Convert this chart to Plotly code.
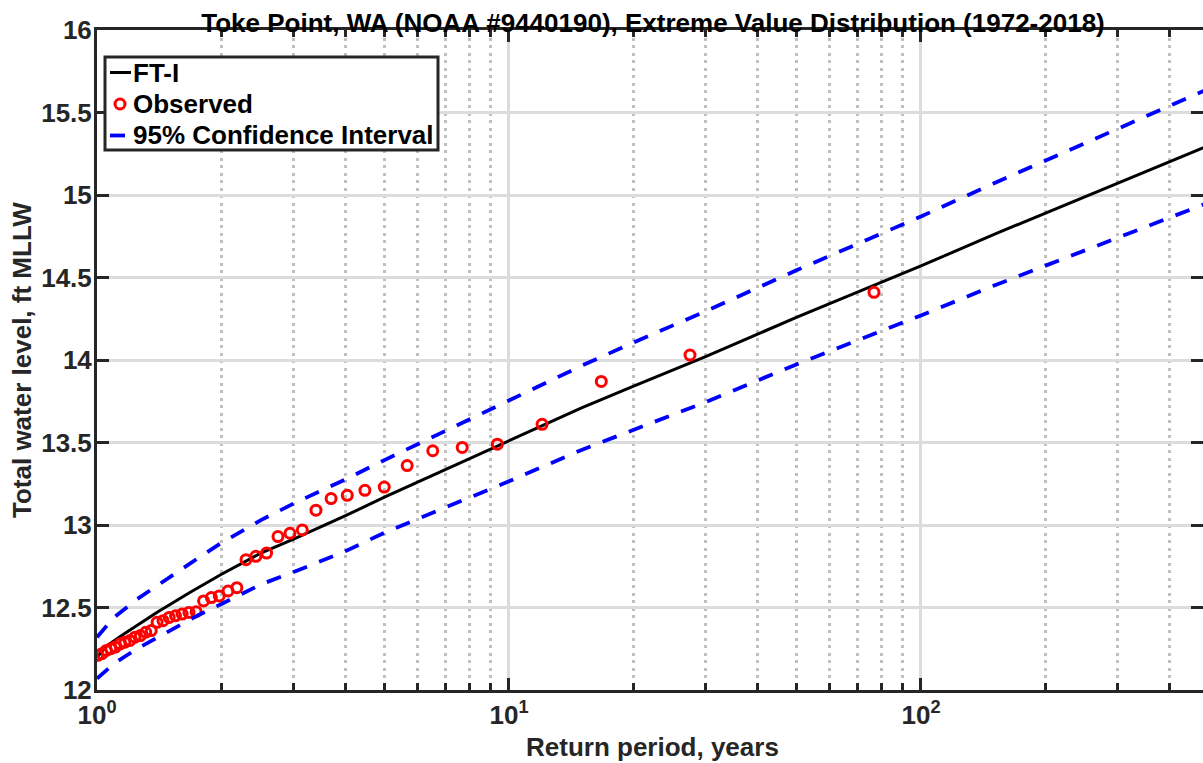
import plotly.graph_objects as go

# ---------------- data ----------------
fit_T = [1.0, 1.02, 1.056, 1.16, 1.4, 1.68, 2.0, 2.5, 3, 4, 5, 7, 10, 15, 20,
         30, 50, 70, 100, 150, 200, 300, 500]
fit_v = [12.195, 12.225, 12.267, 12.338, 12.471, 12.591, 12.70, 12.83, 12.915,
         13.055, 13.17, 13.335, 13.51, 13.71, 13.84, 14.02, 14.26, 14.41, 14.57,
         14.76, 14.89, 15.07, 15.30]

obs_T = [76.9, 27.5, 16.75, 12.03, 9.37, 7.70, 6.53, 5.66, 4.98, 4.47, 4.05, 3.70,
         3.40, 3.15, 2.94, 2.75, 2.58, 2.43, 2.30, 2.185, 2.08, 1.98, 1.895, 1.814,
         1.740, 1.672, 1.609, 1.551, 1.497, 1.446, 1.399, 1.354, 1.313, 1.274,
         1.237, 1.202, 1.169, 1.138, 1.108, 1.080, 1.054, 1.028, 1.004]
obs_v = [14.41, 14.03, 13.87, 13.61, 13.49, 13.47, 13.45, 13.36, 13.23, 13.21,
         13.18, 13.16, 13.09, 12.97, 12.95, 12.93, 12.83, 12.81, 12.79, 12.62,
         12.60, 12.57, 12.56, 12.54, 12.475, 12.47, 12.46, 12.45, 12.44, 12.42,
         12.41, 12.36, 12.35, 12.33, 12.32, 12.30, 12.29, 12.28, 12.26, 12.25,
         12.24, 12.22, 12.21]

ci_T = [1.0, 1.1, 1.25, 1.5, 1.75, 2, 2.5, 3, 4, 5, 7, 10, 15, 20, 30, 50, 70,
        100, 150, 200, 300, 500]
ci_upper = [12.32, 12.44, 12.55, 12.685, 12.795, 12.89, 13.03, 13.13, 13.275, 13.395,
            13.57, 13.755, 13.965, 14.105, 14.295, 14.545, 14.703, 14.87, 15.07,
            15.208, 15.40, 15.645]
ci_lower = [12.07, 12.16, 12.25, 12.36, 12.45, 12.52, 12.64, 12.715, 12.84, 12.955,
            13.105, 13.265, 13.455, 13.575, 13.745, 13.975, 14.117, 14.27, 14.45,
            14.572, 14.74, 14.955]

x_major_ticks = [1, 10, 100]
x_major_text = ["10<sup>0</sup>", "10<sup>1</sup>", "10<sup>2</sup>"]
x_minor_ticks = [2, 3, 4, 5, 6, 7, 8, 9, 20, 30, 40, 50, 60, 70, 80, 90, 200, 300, 400]
y_ticks = [12, 12.5, 13, 13.5, 14, 14.5, 15, 15.5, 16]
y_text = ["12", "12.5", "13", "13.5", "14", "14.5", "15", "15.5", "16"]

legend_names = ["FT-I", "Observed", "95% Confidence Interval"]
title_text = "Toke Point, WA (NOAA #9440190), Extreme Value Distribution (1972-2018)"
x_title = "Return period, years"
y_title = "Total water level, ft MLLW"

# ---------------- figure ----------------
FONT = "Liberation Sans, Arial, Helvetica, sans-serif"
AX = "#262626"
L, R, T, B = 97, 1203, 30, 690          # plot area in pixels


def px(xp):
    return (xp - L) / (R - L)


def py(yp):
    return (B - yp) / (B - T)


fit_line = dict(color="black", width=3)
obs_marker = dict(symbol="circle-open", size=10, color="red",
                  line=dict(color="red", width=3))
ci_line = dict(color="#0000ff", width=3.8, dash="15px,13px")

fig = go.Figure()
fig.add_trace(go.Scatter(x=fit_T, y=fit_v, mode="lines", name=legend_names[0],
                         line=fit_line))
fig.add_trace(go.Scatter(x=obs_T, y=obs_v, mode="markers", name=legend_names[1],
                         marker=obs_marker))
fig.add_trace(go.Scatter(x=ci_T, y=ci_upper, mode="lines", name=legend_names[2],
                         line=ci_line))
fig.add_trace(go.Scatter(x=ci_T, y=ci_lower, mode="lines", name=legend_names[2],
                         line=ci_line))

# ---- legend box drawn like the reference (compact MATLAB style) ----
box = dict(x0=105, x1=438, y0=57, y1=150)
rows = [72.5, 104, 135.5]
shapes = [
    dict(type="rect", xref="paper", yref="paper", x0=px(box["x0"]), x1=px(box["x1"]),
         y0=py(box["y1"]), y1=py(box["y0"]), fillcolor="white",
         line=dict(color=AX, width=3), layer="above"),
    dict(type="line", xref="paper", yref="paper", x0=px(110), x1=px(131),
         y0=py(rows[0]), y1=py(rows[0]), line=dict(color="black", width=3)),
    dict(type="circle", xref="paper", yref="paper", xsizemode="pixel", ysizemode="pixel",
         xanchor=px(120), yanchor=py(rows[1]), x0=-5, x1=5, y0=-5, y1=5,
         line=dict(color="red", width=3)),
    dict(type="line", xref="paper", yref="paper", x0=px(110), x1=px(125),
         y0=py(rows[2]), y1=py(rows[2]), line=dict(color="#0000ff", width=3.8)),
]
legend_ann = [
    dict(text=name, xref="paper", yref="paper", x=px(131), y=py(ry), xanchor="left",
         yanchor="middle", showarrow=False,
         font=dict(family=FONT, size=26, color="black", weight="bold"))
    for name, ry in zip(legend_names, rows)
]

fig.update_layout(
    width=1203, height=763,
    margin=dict(l=L, r=1203 - R, t=T, b=763 - B, autoexpand=False),
    plot_bgcolor="white", paper_bgcolor="white",
    showlegend=False,
    font=dict(family=FONT, size=26, color=AX, weight="bold"),
    title=dict(text=title_text, xref="container", yref="container",
               x=653 / 1203, y=1 - 23 / 763, xanchor="center", yanchor="middle",
               font=dict(family=FONT, size=26, color="black", weight="bold")),
    xaxis=dict(type="log", range=[0, 2.6845], showline=True, linecolor=AX, linewidth=3,
               mirror="ticks", ticks="inside", ticklen=12, tickwidth=3, tickcolor=AX,
               tickmode="array", tickvals=x_major_ticks, ticktext=x_major_text,
               tickfont=dict(family=FONT, size=26, color=AX, weight="bold"),
               showgrid=True, gridcolor="#dcdcdc", gridwidth=2.5, zeroline=False,
               minor=dict(tickmode="array", tickvals=x_minor_ticks, ticks="inside",
                          ticklen=7, tickwidth=3, tickcolor=AX, showgrid=True,
                          gridcolor="#bfbfbf", gridwidth=2.5, griddash="3px,4.5px")),
    yaxis=dict(range=[12, 16], showline=True, linecolor=AX, linewidth=3, mirror="ticks",
               ticks="inside", ticklen=12, tickwidth=3, tickcolor=AX,
               tickmode="array", tickvals=y_ticks, ticktext=y_text,
               tickfont=dict(family=FONT, size=26, color=AX, weight="bold"),
               ticklabelstandoff=-3,
               showgrid=True, gridcolor="#dcdcdc", gridwidth=2.5, zeroline=False),
    shapes=shapes,
    annotations=[
        dict(text=x_title, xref="paper", yref="paper", x=px(652.5),
             y=py(747), xanchor="center", yanchor="middle", showarrow=False,
             font=dict(family=FONT, size=26, color=AX, weight="bold")),
        dict(text=y_title, xref="paper", yref="paper", x=px(22), y=0.5,
             xanchor="center", yanchor="middle", textangle=-90, showarrow=False,
             font=dict(family=FONT, size=26, color=AX, weight="bold")),
    ] + legend_ann,
)

fig.write_html("out.html")
